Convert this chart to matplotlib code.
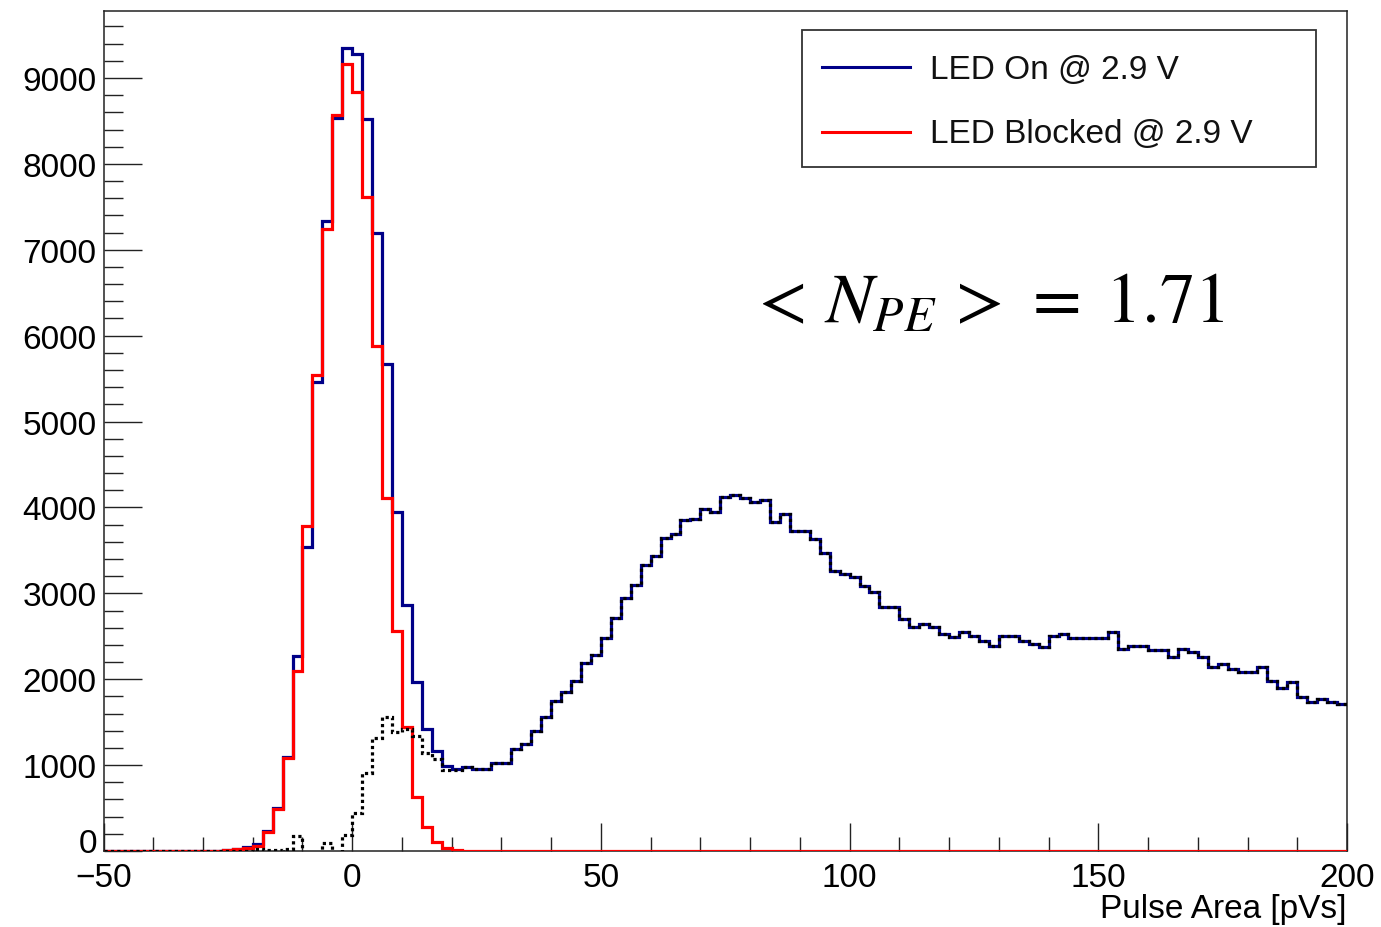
import numpy as np
import matplotlib
matplotlib.use("Agg")
import matplotlib.pyplot as plt
from matplotlib.ticker import MultipleLocator, FuncFormatter
from matplotlib.patches import Rectangle
from matplotlib.lines import Line2D

plt.rcParams['font.family'] = ['Liberation Sans', 'DejaVu Sans']
plt.rcParams['mathtext.fontset'] = 'stix'

# ---- data (bin width 2 pVs, from -50 to 200) ----
bin_edges = np.arange(-50, 202, 2)

led_on = [0]*12 + [
    10, 20, 45, 80, 230, 500, 1100, 2270, 3540, 5465, 7330, 8530,      # -26 .. -4
    9345, 9280, 8520, 7190, 5670, 3950, 2860, 1970, 1420, 1170, 985,   # -2 .. 18
    955, 975, 955, 960, 1020, 1030, 1190, 1245, 1400, 1560,            # 20 .. 38
    1750, 1850, 1980, 2190, 2280, 2480, 2710, 2950, 3100, 3330,        # 40 .. 58
    3440, 3640, 3690, 3850, 3870, 3980, 3950, 4120, 4140, 4110,        # 60 .. 78
    4060, 4090, 3830, 3920, 3730, 3720, 3630, 3470, 3260, 3220,        # 80 .. 98
    3185, 3090, 3010, 2840, 2840, 2700, 2605, 2645, 2605, 2525,        # 100 .. 118
    2490, 2555, 2505, 2450, 2390, 2500, 2500, 2450, 2410, 2370,        # 120 .. 138
    2500, 2525, 2475, 2475, 2475, 2475, 2555, 2350, 2390, 2390,        # 140 .. 158
    2345, 2345, 2255, 2350, 2315, 2255, 2140, 2175, 2120, 2080,        # 160 .. 178
    2080, 2140, 1985, 1895, 1965, 1790, 1730, 1770, 1730, 1710,        # 180 .. 198
]

led_blocked = [0]*12 + [
    10, 20, 40, 60, 220, 490, 1080, 2100, 3780, 5540, 7240, 8570,      # -26 .. -4
    9160, 8840, 7610, 5880, 4110, 2565, 1440, 630, 280, 100, 40, 10,   # -2 .. 20
] + [0]*89

on = np.array(led_on, dtype=float)
blocked = np.array(led_blocked, dtype=float)
assert len(on) == 125 and len(blocked) == 125
difference = on - blocked

# ---- figure ----
W, H = 1381, 928
fig = plt.figure(figsize=(W/100, H/100), dpi=100)
fig.patch.set_facecolor('white')
ax = fig.add_axes([103.5/W, 1-852/H, (1347-103.5)/W, (852-12)/H])

lw = 2.3
ax.stairs(on, bin_edges, color='#000088', lw=lw, baseline=None, zorder=2)
ax.stairs(blocked, bin_edges, color='#ff0000', lw=lw, baseline=None, zorder=3)
ax.stairs(difference, bin_edges, color='black', lw=lw, baseline=None,
          linestyle=(0, (1.0, 1.0)), zorder=4)

ax.set_xlim(-50, 200)
ax.set_ylim(0, 9780)

for s in ['top', 'right', 'left', 'bottom']:
    ax.spines[s].set_linewidth(1.1)
    ax.spines[s].set_color('#222222')

ax.xaxis.set_major_locator(MultipleLocator(50))
ax.xaxis.set_minor_locator(MultipleLocator(10))
ax.yaxis.set_major_locator(MultipleLocator(1000))
ax.yaxis.set_minor_locator(MultipleLocator(200))
# the "0" of the y axis is drawn separately, raised a little as ROOT does
ax.yaxis.set_major_formatter(FuncFormatter(lambda v, p: '' if v == 0 else f'{v:.0f}'))

ax.tick_params(axis='x', which='major', direction='in', length=20, width=1.0,
               labelsize=24, pad=8, top=False, color='#222222')
ax.tick_params(axis='x', which='minor', direction='in', length=10, width=1.0,
               top=False, color='#222222')
ax.tick_params(axis='y', which='major', direction='in', length=27, width=1.0,
               labelsize=24, pad=5, right=False, color='#222222')
ax.tick_params(axis='y', which='minor', direction='in', length=14, width=1.0,
               right=False, color='#222222')

fig.text(97/W, 1-845/H, '0', fontsize=24, ha='right', va='center')
fig.text(1347/W, 1-910/H, 'Pulse Area [pVs]', fontsize=24, ha='right', va='center')

# ---- legend box ----
lx0, ly0, lx1, ly1 = 802, 31, 1316, 168
fig.patches.append(Rectangle((lx0/W, 1-ly1/H), (lx1-lx0)/W, (ly1-ly0)/H,
                             transform=fig.transFigure, facecolor='white',
                             edgecolor='#333333', lw=1.3, zorder=10))
entries = [('LED On @ 2.9 V', '#000088', 68), ('LED Blocked @ 2.9 V', '#ff0000', 133)]
for label, col, yy in entries:
    fig.lines.append(Line2D([822/W, 910/W], [1-yy/H, 1-yy/H], color=col, lw=2.2,
                            transform=fig.transFigure, zorder=11))
    fig.text(930/W, 1-(yy+2)/H, label, fontsize=24, va='center', ha='left',
             color='#111111', zorder=12)

fig.text(748/W, 1-322/H, r'$<\,N_{PE}\,>\,=\;1.71$', fontsize=51, ha='left',
         va='baseline', color='black')

fig.savefig('out.png', dpi=100, facecolor='white')
